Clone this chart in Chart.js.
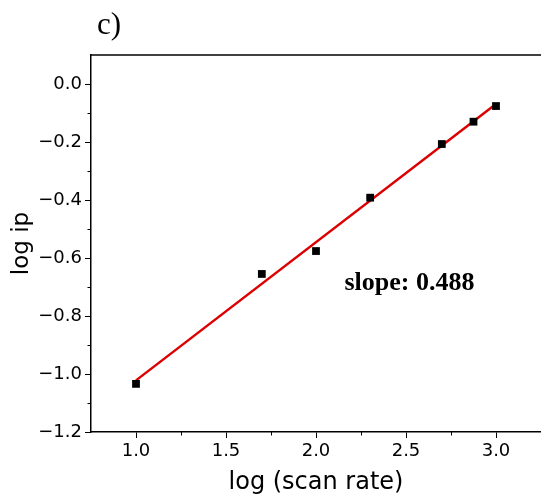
<!DOCTYPE html>
<html>
<head>
<meta charset="utf-8">
<script src="https://cdn.jsdelivr.net/npm/chart.js@4/dist/chart.umd.min.js"></script>
<style>
  html, body { margin: 0; padding: 0; background: #fff; }
  #wrap { width: 541px; height: 498px; position: relative; }
</style>
</head>
<body>
<div id="wrap"><canvas id="chart"></canvas></div>
<script>
// values: log (scan rate) vs log ip
const logScanRate = [1.0, 1.699, 2.0, 2.301, 2.699, 2.875, 3.0];
const logIp = [-1.034, -0.655, -0.576, -0.392, -0.207, -0.130, -0.076];

// end points of the fitted line
const fitX = [1.0, 3.0];
const fitY = [-1.022, -0.069];

// axis ticks
const xTicks = [1.0, 1.5, 2.0, 2.5, 3.0];
const xMinor = [1.25, 1.75, 2.25, 2.75];
const yTicks = [-1.2, -1.0, -0.8, -0.6, -0.4, -0.2, 0.0];
const yMinor = [-1.1, -0.9, -0.7, -0.5, -0.3, -0.1];

const panelLabel = "c)";
const slopeText = "slope: 0.488";
const slopeAt = { x: 2.158, y: -0.71 }; // where the label sits, in data units

const sans = "'DejaVu Sans', sans-serif";

// top border, minor ticks and the two free texts
const extras = {
  id: "extras",
  afterDraw(chart) {
    const { ctx, chartArea: a, scales } = chart;
    const x = scales.x, y = scales.y;
    ctx.save();
    ctx.strokeStyle = "#000";
    ctx.lineWidth = 1.5;
    ctx.beginPath();
    ctx.moveTo(a.left - 0.75, a.top);
    ctx.lineTo(a.right, a.top);
    ctx.stroke();

    ctx.lineWidth = 1;
    ctx.beginPath();
    xMinor.forEach((v) => {
      const px = Math.round(x.getPixelForValue(v)) + 0.5;
      ctx.moveTo(px, a.bottom);
      ctx.lineTo(px, a.bottom + 3.5);
    });
    yMinor.forEach((v) => {
      const py = Math.round(y.getPixelForValue(v)) + 0.5;
      ctx.moveTo(a.left, py);
      ctx.lineTo(a.left - 3.5, py);
    });
    ctx.stroke();

    ctx.fillStyle = "#000";
    ctx.textBaseline = "alphabetic";
    ctx.textAlign = "left";
    ctx.font = "31px 'Liberation Serif', serif";
    ctx.fillText(panelLabel, 97, 34);
    ctx.font = "bold 26px 'Liberation Serif', serif";
    ctx.fillText(slopeText, x.getPixelForValue(slopeAt.x), y.getPixelForValue(slopeAt.y));
    ctx.restore();
  },
};

const points = logScanRate.map((v, i) => ({ x: v, y: logIp[i] }));
const fitLine = fitX.map((v, i) => ({ x: v, y: fitY[i] }));

const fmt = (v) => Number(v).toFixed(1).replace("-", "\u2212");

new Chart(document.getElementById("chart"), {
  type: "scatter",
  data: {
    datasets: [
      {
        data: points,
        pointStyle: "rect",
        pointRadius: 5.5,
        backgroundColor: "#000",
        borderColor: "#000",
        borderWidth: 0,
      },
      {
        data: fitLine,
        showLine: true,
        pointRadius: 0,
        borderColor: "#dd0000",
        borderWidth: 2.5,
      },
    ],
  },
  options: {
    responsive: true,
    maintainAspectRatio: false,
    animation: false,
    layout: { autoPadding: false, padding: { top: 55, right: 0, left: 0, bottom: 0 } },
    plugins: { legend: { display: false }, tooltip: { enabled: false } },
    scales: {
      x: {
        type: "linear",
        min: 0.75,
        max: 3.25,
        afterBuildTicks: (s) => { s.ticks = xTicks.map((v) => ({ value: v })); },
        afterFit: (s) => { s.height = 66; s.paddingLeft = 0; s.paddingRight = 0; },
        border: { color: "#000", width: 1.5 },
        grid: { drawOnChartArea: false, tickLength: 6, tickColor: "#000", tickWidth: 1 },
        ticks: {
          color: "#000",
          padding: 3,
          maxRotation: 0,
          font: { family: sans, size: 18 },
          callback: (v) => fmt(v),
        },
        title: {
          display: true,
          text: "log (scan rate)",
          color: "#000",
          font: { family: sans, size: 24 },
          padding: { top: 0, bottom: 1 },
        },
      },
      y: {
        type: "linear",
        min: -1.2,
        max: 0.1,
        afterBuildTicks: (s) => { s.ticks = yTicks.map((v) => ({ value: v })); },
        afterFit: (s) => { s.width = 91; s.paddingTop = 0; s.paddingBottom = 0; },
        border: { color: "#000", width: 1.5 },
        grid: { drawOnChartArea: false, tickLength: 6, tickColor: "#000", tickWidth: 1 },
        ticks: {
          color: "#000",
          padding: 3,
          font: { family: sans, size: 18 },
          callback: (v) => fmt(v),
        },
        title: {
          display: true,
          text: "log ip",
          color: "#000",
          font: { family: sans, size: 23 },
          padding: { top: 8, bottom: 0 },
        },
      },
    },
  },
  plugins: [extras],
});
</script>
</body>
</html>
